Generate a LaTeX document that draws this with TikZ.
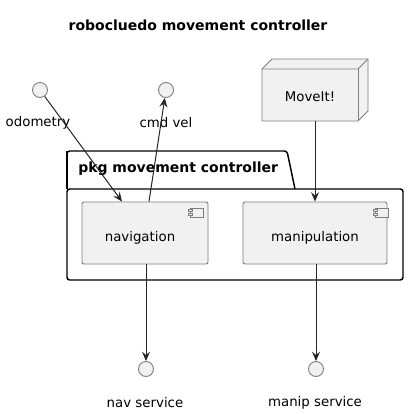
\documentclass[tikz,border=0pt]{standalone}
\usepackage{fontspec}
\setmainfont{DejaVu Sans}
\usetikzlibrary{arrows.meta}
\definecolor{boxfill}{HTML}{F1F1F1}
\definecolor{boxline}{HTML}{7F7F7F}
\begin{document}
\begin{tikzpicture}[x=0.75pt,y=-0.75pt,
  iface/.style={circle,draw=boxline,fill=boxfill,line width=0.7pt,minimum size=11.25pt,inner sep=0pt},
  comp/.style={draw=boxline,fill=boxfill,line width=0.7pt,rounded corners=1.5pt,minimum width=94.5pt,minimum height=46.5pt,inner sep=0pt},
  lbl/.style={font=\fontsize{10pt}{12pt}\selectfont,inner sep=0pt},
  conn/.style={line width=0.75pt,draw=black!85,-{Stealth[length=7pt,width=6pt,inset=2.5pt]}},
  pkgline/.style={draw=black,line width=1.1pt}]
\useasboundingbox (0,0) rectangle (409,414);
% title
\node[font=\bfseries\fontsize{10.5pt}{12pt}\selectfont] (title) at (198,25) {robocluedo movement controller};
% package
\draw[pkgline,fill=white,rounded corners=2pt] (67,189) -- (67,151) -- (287,151) -- (295,189);
\draw[pkgline,fill=white,rounded corners=2pt] (67,189) rectangle (403,280);
\draw[pkgline] (67,151) -- (67,189);
\node[lbl,font=\bfseries\fontsize{10.5pt}{12pt}\selectfont,anchor=west] (pkg) at (78,169) {pkg movement controller};
% components
\node[comp] (nav) at (145,233) {};
\node[lbl] (navt) at (140,238) {navigation};
\node[comp,minimum width=108pt] (man) at (315,233) {};
\node[lbl] (mant) at (315,238) {manipulation};
% component icons
\foreach \cx in {190,375}{
  \draw[boxline,line width=0.6pt,fill=boxfill] (\cx,208) rectangle (\cx+13,217);
  \draw[boxline,line width=0.6pt,fill=boxfill] (\cx-2,209.8) rectangle (\cx+2,211.8);
  \draw[boxline,line width=0.6pt,fill=boxfill] (\cx-2,213.4) rectangle (\cx+2,215.4);
}
% MoveIt node
\draw[boxline,line width=0.7pt,fill=boxfill] (262,69) -- (272,59) -- (368,59) -- (368,111) -- (358,121) -- (262,121) -- cycle;
\draw[boxline,line width=0.7pt] (262,69) -- (358,69) -- (368,59);
\draw[boxline,line width=0.7pt] (358,69) -- (358,121);
\coordinate (moveitb) at (315,121);
\node[lbl] (moveit) at (310,97) {MoveIt!};
% interfaces
\node[iface] (odo) at (40,90) {};
\node[lbl] (odol) at (38,123) {odometry};
\node[iface] (cmd) at (166,90) {};
\node[lbl] (cmdl) at (166,123) {cmd vel};
\node[iface] (navs) at (146,369) {};
\node[lbl] (navsl) at (145,403) {nav service};
\node[iface] (mans) at (316,369) {};
\node[lbl] (mansl) at (315,403) {manip service};
% connectors
\draw[conn] (odo) -- (nav.north -| 122,0);
\draw[conn] (nav.north -| 149,0) -- (cmd);
\draw[conn] (moveitb) -- (man.north);
\draw[conn] (nav.south -| 146,0) -- (navs);
\draw[conn] (man.south -| 316,0) -- (mans);
\end{tikzpicture}
\end{document}
